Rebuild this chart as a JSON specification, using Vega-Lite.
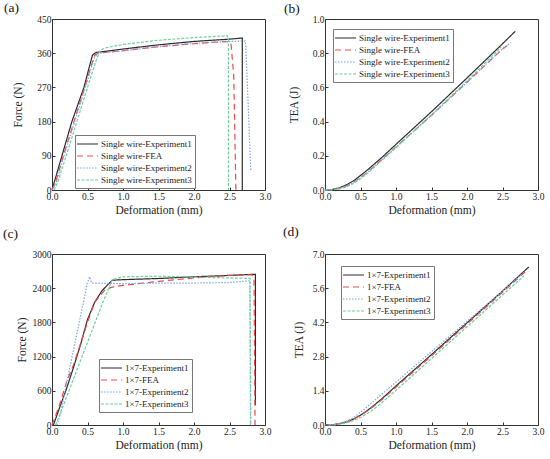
{
  "$schema": "https://vega.github.io/schema/vega-lite/v6.json",
  "description": "Force and TEA versus deformation for single wire and 1x7 strand.",
  "padding": {"left": 2, "top": 0, "right": 0, "bottom": 0},
  "config": {
    "font": "Liberation Serif, Times New Roman, DejaVu Serif, serif",
    "view": {"stroke": "#333", "strokeWidth": 1},
    "axis": {
      "grid": false, "domain": false, "tickSize": -3, "tickColor": "#333",
      "labelFont": "Liberation Serif, Times New Roman, DejaVu Serif, serif", "labelFontSize": 9.5, "labelColor": "#222",
      "titleFont": "Liberation Serif, Times New Roman, DejaVu Serif, serif", "titleFontSize": 11.5, "titleFontWeight": "normal", "titleColor": "#222",
      "labelFlush": false, "labelPadding": 4, "titlePadding": 4
    },
    "title": {"font": "Liberation Serif, Times New Roman, DejaVu Serif, serif", "fontSize": 13.5, "fontWeight": "normal", "anchor": "start", "frame": "group", "color": "#111"},
    "legend": {
      "labelFont": "Liberation Serif, Times New Roman, DejaVu Serif, serif", "labelFontSize": 9, "labelColor": "#222",
      "symbolType": "M-1.4,0H2.8", "symbolSize": 100, "symbolStrokeWidth": 1.5,
      "strokeColor": "#777", "fillColor": "white", "padding": 3, "rowPadding": 1, "labelOffset": 11, "labelLimit": 200
    },
    "line": {"strokeWidth": 1.2}
  },
  "datasets": {
    "a": [
      {"s": "Single wire-Experiment1", "o": 0, "d": 0, "v": 0},
      {"s": "Single wire-Experiment1", "o": 1, "d": 0.14, "v": 90},
      {"s": "Single wire-Experiment1", "o": 2, "d": 0.28, "v": 180},
      {"s": "Single wire-Experiment1", "o": 3, "d": 0.45, "v": 270},
      {"s": "Single wire-Experiment1", "o": 4, "d": 0.52, "v": 320},
      {"s": "Single wire-Experiment1", "o": 5, "d": 0.57, "v": 355},
      {"s": "Single wire-Experiment1", "o": 6, "d": 0.62, "v": 362},
      {"s": "Single wire-Experiment1", "o": 7, "d": 0.8, "v": 366},
      {"s": "Single wire-Experiment1", "o": 8, "d": 1.0, "v": 371},
      {"s": "Single wire-Experiment1", "o": 9, "d": 1.5, "v": 382},
      {"s": "Single wire-Experiment1", "o": 10, "d": 2.0, "v": 391},
      {"s": "Single wire-Experiment1", "o": 11, "d": 2.5, "v": 397},
      {"s": "Single wire-Experiment1", "o": 12, "d": 2.68, "v": 400},
      {"s": "Single wire-Experiment1", "o": 13, "d": 2.68, "v": 0},
      {"s": "Single wire-FEA", "o": 0, "d": 0, "v": 0},
      {"s": "Single wire-FEA", "o": 1, "d": 0.05, "v": 20},
      {"s": "Single wire-FEA", "o": 2, "d": 0.16, "v": 90},
      {"s": "Single wire-FEA", "o": 3, "d": 0.31, "v": 180},
      {"s": "Single wire-FEA", "o": 4, "d": 0.46, "v": 270},
      {"s": "Single wire-FEA", "o": 5, "d": 0.6, "v": 355},
      {"s": "Single wire-FEA", "o": 6, "d": 0.65, "v": 360},
      {"s": "Single wire-FEA", "o": 7, "d": 1.0, "v": 367},
      {"s": "Single wire-FEA", "o": 8, "d": 1.5, "v": 377},
      {"s": "Single wire-FEA", "o": 9, "d": 2.0, "v": 385},
      {"s": "Single wire-FEA", "o": 10, "d": 2.45, "v": 391},
      {"s": "Single wire-FEA", "o": 11, "d": 2.52, "v": 387},
      {"s": "Single wire-FEA", "o": 12, "d": 2.56, "v": 300},
      {"s": "Single wire-FEA", "o": 13, "d": 2.59, "v": 0},
      {"s": "Single wire-Experiment2", "o": 0, "d": 0, "v": 0},
      {"s": "Single wire-Experiment2", "o": 1, "d": 0.06, "v": 20},
      {"s": "Single wire-Experiment2", "o": 2, "d": 0.17, "v": 90},
      {"s": "Single wire-Experiment2", "o": 3, "d": 0.32, "v": 180},
      {"s": "Single wire-Experiment2", "o": 4, "d": 0.47, "v": 270},
      {"s": "Single wire-Experiment2", "o": 5, "d": 0.6, "v": 350},
      {"s": "Single wire-Experiment2", "o": 6, "d": 0.66, "v": 360},
      {"s": "Single wire-Experiment2", "o": 7, "d": 1.0, "v": 366},
      {"s": "Single wire-Experiment2", "o": 8, "d": 1.5, "v": 377},
      {"s": "Single wire-Experiment2", "o": 9, "d": 2.0, "v": 386},
      {"s": "Single wire-Experiment2", "o": 10, "d": 2.5, "v": 391},
      {"s": "Single wire-Experiment2", "o": 11, "d": 2.72, "v": 392},
      {"s": "Single wire-Experiment2", "o": 12, "d": 2.73, "v": 380},
      {"s": "Single wire-Experiment2", "o": 13, "d": 2.8, "v": 50},
      {"s": "Single wire-Experiment3", "o": 0, "d": 0.03, "v": 0},
      {"s": "Single wire-Experiment3", "o": 1, "d": 0.08, "v": 20},
      {"s": "Single wire-Experiment3", "o": 2, "d": 0.2, "v": 90},
      {"s": "Single wire-Experiment3", "o": 3, "d": 0.35, "v": 180},
      {"s": "Single wire-Experiment3", "o": 4, "d": 0.5, "v": 270},
      {"s": "Single wire-Experiment3", "o": 5, "d": 0.62, "v": 340},
      {"s": "Single wire-Experiment3", "o": 6, "d": 0.68, "v": 368},
      {"s": "Single wire-Experiment3", "o": 7, "d": 0.75, "v": 374},
      {"s": "Single wire-Experiment3", "o": 8, "d": 1.0, "v": 383},
      {"s": "Single wire-Experiment3", "o": 9, "d": 1.5, "v": 394},
      {"s": "Single wire-Experiment3", "o": 10, "d": 2.0, "v": 401},
      {"s": "Single wire-Experiment3", "o": 11, "d": 2.47, "v": 406},
      {"s": "Single wire-Experiment3", "o": 12, "d": 2.485, "v": 395},
      {"s": "Single wire-Experiment3", "o": 13, "d": 2.485, "v": 0}
    ],
    "b": [
      {"s": "Single wire-Experiment1", "o": 0, "d": 0, "v": 0},
      {"s": "Single wire-Experiment1", "o": 1, "d": 0.1, "v": 0.003},
      {"s": "Single wire-Experiment1", "o": 2, "d": 0.2, "v": 0.012},
      {"s": "Single wire-Experiment1", "o": 3, "d": 0.3, "v": 0.03},
      {"s": "Single wire-Experiment1", "o": 4, "d": 0.4, "v": 0.053},
      {"s": "Single wire-Experiment1", "o": 5, "d": 0.5, "v": 0.085},
      {"s": "Single wire-Experiment1", "o": 6, "d": 0.6, "v": 0.118},
      {"s": "Single wire-Experiment1", "o": 7, "d": 0.8, "v": 0.19},
      {"s": "Single wire-Experiment1", "o": 8, "d": 1.0, "v": 0.267},
      {"s": "Single wire-Experiment1", "o": 9, "d": 1.5, "v": 0.458},
      {"s": "Single wire-Experiment1", "o": 10, "d": 2.0, "v": 0.655},
      {"s": "Single wire-Experiment1", "o": 11, "d": 2.5, "v": 0.855},
      {"s": "Single wire-Experiment1", "o": 12, "d": 2.68, "v": 0.928},
      {"s": "Single wire-FEA", "o": 0, "d": 0, "v": 0},
      {"s": "Single wire-FEA", "o": 1, "d": 0.1, "v": 0.002},
      {"s": "Single wire-FEA", "o": 2, "d": 0.2, "v": 0.009},
      {"s": "Single wire-FEA", "o": 3, "d": 0.3, "v": 0.024},
      {"s": "Single wire-FEA", "o": 4, "d": 0.4, "v": 0.045},
      {"s": "Single wire-FEA", "o": 5, "d": 0.5, "v": 0.073},
      {"s": "Single wire-FEA", "o": 6, "d": 0.6, "v": 0.105},
      {"s": "Single wire-FEA", "o": 7, "d": 0.8, "v": 0.178},
      {"s": "Single wire-FEA", "o": 8, "d": 1.0, "v": 0.252},
      {"s": "Single wire-FEA", "o": 9, "d": 1.5, "v": 0.437},
      {"s": "Single wire-FEA", "o": 10, "d": 2.0, "v": 0.63},
      {"s": "Single wire-FEA", "o": 11, "d": 2.5, "v": 0.825},
      {"s": "Single wire-FEA", "o": 12, "d": 2.6, "v": 0.855},
      {"s": "Single wire-Experiment2", "o": 0, "d": 0, "v": 0},
      {"s": "Single wire-Experiment2", "o": 1, "d": 0.1, "v": 0.002},
      {"s": "Single wire-Experiment2", "o": 2, "d": 0.2, "v": 0.009},
      {"s": "Single wire-Experiment2", "o": 3, "d": 0.3, "v": 0.023},
      {"s": "Single wire-Experiment2", "o": 4, "d": 0.4, "v": 0.044},
      {"s": "Single wire-Experiment2", "o": 5, "d": 0.5, "v": 0.072},
      {"s": "Single wire-Experiment2", "o": 6, "d": 0.6, "v": 0.104},
      {"s": "Single wire-Experiment2", "o": 7, "d": 0.8, "v": 0.177},
      {"s": "Single wire-Experiment2", "o": 8, "d": 1.0, "v": 0.25},
      {"s": "Single wire-Experiment2", "o": 9, "d": 1.5, "v": 0.436},
      {"s": "Single wire-Experiment2", "o": 10, "d": 2.0, "v": 0.63},
      {"s": "Single wire-Experiment2", "o": 11, "d": 2.5, "v": 0.826},
      {"s": "Single wire-Experiment2", "o": 12, "d": 2.62, "v": 0.862},
      {"s": "Single wire-Experiment3", "o": 0, "d": 0, "v": 0},
      {"s": "Single wire-Experiment3", "o": 1, "d": 0.1, "v": 0.001},
      {"s": "Single wire-Experiment3", "o": 2, "d": 0.2, "v": 0.006},
      {"s": "Single wire-Experiment3", "o": 3, "d": 0.3, "v": 0.018},
      {"s": "Single wire-Experiment3", "o": 4, "d": 0.4, "v": 0.038},
      {"s": "Single wire-Experiment3", "o": 5, "d": 0.5, "v": 0.065},
      {"s": "Single wire-Experiment3", "o": 6, "d": 0.6, "v": 0.098},
      {"s": "Single wire-Experiment3", "o": 7, "d": 0.8, "v": 0.172},
      {"s": "Single wire-Experiment3", "o": 8, "d": 1.0, "v": 0.248},
      {"s": "Single wire-Experiment3", "o": 9, "d": 1.5, "v": 0.44},
      {"s": "Single wire-Experiment3", "o": 10, "d": 2.0, "v": 0.638},
      {"s": "Single wire-Experiment3", "o": 11, "d": 2.48, "v": 0.835}
    ],
    "c": [
      {"s": "1×7-Experiment1", "o": 0, "d": 0.02, "v": 0},
      {"s": "1×7-Experiment1", "o": 1, "d": 0.1, "v": 280},
      {"s": "1×7-Experiment1", "o": 2, "d": 0.2, "v": 620},
      {"s": "1×7-Experiment1", "o": 3, "d": 0.3, "v": 1000},
      {"s": "1×7-Experiment1", "o": 4, "d": 0.4, "v": 1400},
      {"s": "1×7-Experiment1", "o": 5, "d": 0.5, "v": 1850},
      {"s": "1×7-Experiment1", "o": 6, "d": 0.6, "v": 2150},
      {"s": "1×7-Experiment1", "o": 7, "d": 0.7, "v": 2350},
      {"s": "1×7-Experiment1", "o": 8, "d": 0.8, "v": 2480},
      {"s": "1×7-Experiment1", "o": 9, "d": 0.85, "v": 2540},
      {"s": "1×7-Experiment1", "o": 10, "d": 1.0, "v": 2550},
      {"s": "1×7-Experiment1", "o": 11, "d": 1.5, "v": 2570},
      {"s": "1×7-Experiment1", "o": 12, "d": 2.0, "v": 2600},
      {"s": "1×7-Experiment1", "o": 13, "d": 2.5, "v": 2625},
      {"s": "1×7-Experiment1", "o": 14, "d": 2.865, "v": 2645},
      {"s": "1×7-Experiment1", "o": 15, "d": 2.865, "v": 350},
      {"s": "1×7-FEA", "o": 0, "d": 0, "v": 0},
      {"s": "1×7-FEA", "o": 1, "d": 0.1, "v": 330},
      {"s": "1×7-FEA", "o": 2, "d": 0.21, "v": 770},
      {"s": "1×7-FEA", "o": 3, "d": 0.3, "v": 1050},
      {"s": "1×7-FEA", "o": 4, "d": 0.4, "v": 1420},
      {"s": "1×7-FEA", "o": 5, "d": 0.5, "v": 1800},
      {"s": "1×7-FEA", "o": 6, "d": 0.6, "v": 2150},
      {"s": "1×7-FEA", "o": 7, "d": 0.75, "v": 2380},
      {"s": "1×7-FEA", "o": 8, "d": 0.85, "v": 2420},
      {"s": "1×7-FEA", "o": 9, "d": 1.0, "v": 2450},
      {"s": "1×7-FEA", "o": 10, "d": 1.5, "v": 2520},
      {"s": "1×7-FEA", "o": 11, "d": 2.0, "v": 2580},
      {"s": "1×7-FEA", "o": 12, "d": 2.5, "v": 2625},
      {"s": "1×7-FEA", "o": 13, "d": 2.82, "v": 2635},
      {"s": "1×7-FEA", "o": 14, "d": 2.845, "v": 2580},
      {"s": "1×7-FEA", "o": 15, "d": 2.86, "v": 0},
      {"s": "1×7-Experiment2", "o": 0, "d": 0.07, "v": 0},
      {"s": "1×7-Experiment2", "o": 1, "d": 0.12, "v": 200},
      {"s": "1×7-Experiment2", "o": 2, "d": 0.2, "v": 700},
      {"s": "1×7-Experiment2", "o": 3, "d": 0.3, "v": 1300},
      {"s": "1×7-Experiment2", "o": 4, "d": 0.4, "v": 1900},
      {"s": "1×7-Experiment2", "o": 5, "d": 0.5, "v": 2500},
      {"s": "1×7-Experiment2", "o": 6, "d": 0.53, "v": 2600},
      {"s": "1×7-Experiment2", "o": 7, "d": 0.56, "v": 2490},
      {"s": "1×7-Experiment2", "o": 8, "d": 1.0, "v": 2480},
      {"s": "1×7-Experiment2", "o": 9, "d": 1.5, "v": 2490},
      {"s": "1×7-Experiment2", "o": 10, "d": 2.0, "v": 2490},
      {"s": "1×7-Experiment2", "o": 11, "d": 2.5, "v": 2500},
      {"s": "1×7-Experiment2", "o": 12, "d": 2.785, "v": 2530},
      {"s": "1×7-Experiment2", "o": 13, "d": 2.795, "v": 0},
      {"s": "1×7-Experiment3", "o": 0, "d": 0.05, "v": 0},
      {"s": "1×7-Experiment3", "o": 1, "d": 0.1, "v": 150},
      {"s": "1×7-Experiment3", "o": 2, "d": 0.3, "v": 800},
      {"s": "1×7-Experiment3", "o": 3, "d": 0.5, "v": 1450},
      {"s": "1×7-Experiment3", "o": 4, "d": 0.7, "v": 2100},
      {"s": "1×7-Experiment3", "o": 5, "d": 0.85, "v": 2550},
      {"s": "1×7-Experiment3", "o": 6, "d": 1.0, "v": 2600},
      {"s": "1×7-Experiment3", "o": 7, "d": 1.5, "v": 2610},
      {"s": "1×7-Experiment3", "o": 8, "d": 2.0, "v": 2595},
      {"s": "1×7-Experiment3", "o": 9, "d": 2.5, "v": 2580},
      {"s": "1×7-Experiment3", "o": 10, "d": 2.79, "v": 2572},
      {"s": "1×7-Experiment3", "o": 11, "d": 2.8, "v": 0}
    ],
    "d": [
      {"s": "1×7-Experiment1", "o": 0, "d": 0, "v": 0},
      {"s": "1×7-Experiment1", "o": 1, "d": 0.1, "v": 0.01},
      {"s": "1×7-Experiment1", "o": 2, "d": 0.2, "v": 0.05},
      {"s": "1×7-Experiment1", "o": 3, "d": 0.3, "v": 0.12},
      {"s": "1×7-Experiment1", "o": 4, "d": 0.4, "v": 0.24},
      {"s": "1×7-Experiment1", "o": 5, "d": 0.5, "v": 0.4},
      {"s": "1×7-Experiment1", "o": 6, "d": 0.6, "v": 0.6},
      {"s": "1×7-Experiment1", "o": 7, "d": 0.7, "v": 0.83},
      {"s": "1×7-Experiment1", "o": 8, "d": 0.8, "v": 1.07},
      {"s": "1×7-Experiment1", "o": 9, "d": 1.0, "v": 1.6},
      {"s": "1×7-Experiment1", "o": 10, "d": 1.5, "v": 2.88},
      {"s": "1×7-Experiment1", "o": 11, "d": 2.0, "v": 4.18},
      {"s": "1×7-Experiment1", "o": 12, "d": 2.5, "v": 5.48},
      {"s": "1×7-Experiment1", "o": 13, "d": 2.87, "v": 6.47},
      {"s": "1×7-FEA", "o": 0, "d": 0, "v": 0},
      {"s": "1×7-FEA", "o": 1, "d": 0.1, "v": 0.01},
      {"s": "1×7-FEA", "o": 2, "d": 0.2, "v": 0.05},
      {"s": "1×7-FEA", "o": 3, "d": 0.3, "v": 0.12},
      {"s": "1×7-FEA", "o": 4, "d": 0.4, "v": 0.23},
      {"s": "1×7-FEA", "o": 5, "d": 0.5, "v": 0.39},
      {"s": "1×7-FEA", "o": 6, "d": 0.6, "v": 0.58},
      {"s": "1×7-FEA", "o": 7, "d": 0.7, "v": 0.8},
      {"s": "1×7-FEA", "o": 8, "d": 0.8, "v": 1.03},
      {"s": "1×7-FEA", "o": 9, "d": 1.0, "v": 1.55},
      {"s": "1×7-FEA", "o": 10, "d": 1.5, "v": 2.83},
      {"s": "1×7-FEA", "o": 11, "d": 2.0, "v": 4.13},
      {"s": "1×7-FEA", "o": 12, "d": 2.5, "v": 5.43},
      {"s": "1×7-FEA", "o": 13, "d": 2.86, "v": 6.38},
      {"s": "1×7-Experiment2", "o": 0, "d": 0.05, "v": 0},
      {"s": "1×7-Experiment2", "o": 1, "d": 0.1, "v": 0.005},
      {"s": "1×7-Experiment2", "o": 2, "d": 0.2, "v": 0.05},
      {"s": "1×7-Experiment2", "o": 3, "d": 0.3, "v": 0.15},
      {"s": "1×7-Experiment2", "o": 4, "d": 0.4, "v": 0.3},
      {"s": "1×7-Experiment2", "o": 5, "d": 0.5, "v": 0.52},
      {"s": "1×7-Experiment2", "o": 6, "d": 0.6, "v": 0.76},
      {"s": "1×7-Experiment2", "o": 7, "d": 0.7, "v": 1.01},
      {"s": "1×7-Experiment2", "o": 8, "d": 0.8, "v": 1.26},
      {"s": "1×7-Experiment2", "o": 9, "d": 1.0, "v": 1.76},
      {"s": "1×7-Experiment2", "o": 10, "d": 1.5, "v": 3.0},
      {"s": "1×7-Experiment2", "o": 11, "d": 2.0, "v": 4.24},
      {"s": "1×7-Experiment2", "o": 12, "d": 2.5, "v": 5.48},
      {"s": "1×7-Experiment2", "o": 13, "d": 2.8, "v": 6.24},
      {"s": "1×7-Experiment3", "o": 0, "d": 0.05, "v": 0},
      {"s": "1×7-Experiment3", "o": 1, "d": 0.1, "v": 0.005},
      {"s": "1×7-Experiment3", "o": 2, "d": 0.2, "v": 0.03},
      {"s": "1×7-Experiment3", "o": 3, "d": 0.3, "v": 0.09},
      {"s": "1×7-Experiment3", "o": 4, "d": 0.4, "v": 0.18},
      {"s": "1×7-Experiment3", "o": 5, "d": 0.5, "v": 0.31},
      {"s": "1×7-Experiment3", "o": 6, "d": 0.6, "v": 0.48},
      {"s": "1×7-Experiment3", "o": 7, "d": 0.7, "v": 0.68},
      {"s": "1×7-Experiment3", "o": 8, "d": 0.8, "v": 0.91},
      {"s": "1×7-Experiment3", "o": 9, "d": 1.0, "v": 1.42},
      {"s": "1×7-Experiment3", "o": 10, "d": 1.5, "v": 2.72},
      {"s": "1×7-Experiment3", "o": 11, "d": 2.0, "v": 4.02},
      {"s": "1×7-Experiment3", "o": 12, "d": 2.5, "v": 5.32},
      {"s": "1×7-Experiment3", "o": 13, "d": 2.8, "v": 6.1}
    ]
  },
  "columns": 2,
  "bounds": "flush",
  "spacing": {"row": 64, "column": 60},
  "resolve": {"scale": {"color": "independent", "strokeDash": "independent"}},
  "concat": [
    {
      "title": {"text": "(a)", "dx": -48, "offset": 0},
      "width": 213, "height": 171,
      "data": {"name": "a"},
      "mark": "line",
      "encoding": {
        "x": {"field": "d", "type": "quantitative", "title": "Deformation (mm)", "scale": {"domain": [0, 3], "nice": false}, "axis": {"values": [0, 0.5, 1, 1.5, 2, 2.5, 3], "format": ".1f"}},
        "y": {"field": "v", "type": "quantitative", "title": "Force (N)", "scale": {"domain": [0, 450], "nice": false}, "axis": {"values": [0, 90, 180, 270, 360, 450], "format": "d", "titlePadding": 13}},
        "order": {"field": "o", "type": "quantitative"},
        "color": {"field": "s", "type": "nominal", "title": null,
          "scale": {"domain": ["Single wire-Experiment1", "Single wire-FEA", "Single wire-Experiment2", "Single wire-Experiment3"], "range": ["#2b2b2b", "#f04848", "#7aa6e8", "#6fd09c"]},
          "legend": {"orient": "none", "legendX": 23, "legendY": 116}},
        "strokeDash": {"field": "s", "type": "nominal", "title": null,
          "scale": {"domain": ["Single wire-Experiment1", "Single wire-FEA", "Single wire-Experiment2", "Single wire-Experiment3"], "range": [[1, 0], [6, 4], [1.5, 1.5], [3, 1.5]]},
          "legend": {"orient": "none", "legendX": 23, "legendY": 116}}
      }
    },
    {
      "title": {"text": "(b)", "dx": -41, "offset": -1},
      "width": 213, "height": 171,
      "data": {"name": "b"},
      "mark": "line",
      "encoding": {
        "x": {"field": "d", "type": "quantitative", "title": "Deformation (mm)", "scale": {"domain": [0, 3], "nice": false}, "axis": {"values": [0, 0.5, 1, 1.5, 2, 2.5, 3], "format": ".1f"}},
        "y": {"field": "v", "type": "quantitative", "title": "TEA (J)", "scale": {"domain": [0, 1], "nice": false}, "axis": {"values": [0, 0.2, 0.4, 0.6, 0.8, 1.0], "format": ".1f", "titlePadding": 13}},
        "order": {"field": "o", "type": "quantitative"},
        "color": {"field": "s", "type": "nominal", "title": null,
          "scale": {"domain": ["Single wire-Experiment1", "Single wire-FEA", "Single wire-Experiment2", "Single wire-Experiment3"], "range": ["#2b2b2b", "#f04848", "#7aa6e8", "#6fd09c"]},
          "legend": {"orient": "none", "legendX": 8, "legendY": 10}},
        "strokeDash": {"field": "s", "type": "nominal", "title": null,
          "scale": {"domain": ["Single wire-Experiment1", "Single wire-FEA", "Single wire-Experiment2", "Single wire-Experiment3"], "range": [[1, 0], [6, 4], [1.5, 1.5], [3, 1.5]]},
          "legend": {"orient": "none", "legendX": 8, "legendY": 10}}
      }
    },
    {
      "title": {"text": "(c)", "dx": -49, "offset": 9},
      "width": 213, "height": 171,
      "data": {"name": "c"},
      "mark": "line",
      "encoding": {
        "x": {"field": "d", "type": "quantitative", "title": "Deformation (mm)", "scale": {"domain": [0, 3], "nice": false}, "axis": {"values": [0, 0.5, 1, 1.5, 2, 2.5, 3], "format": ".1f"}},
        "y": {"field": "v", "type": "quantitative", "title": "Force (N)", "scale": {"domain": [0, 3000], "nice": false}, "axis": {"values": [0, 600, 1200, 1800, 2400, 3000], "format": "d", "titlePadding": 5}},
        "order": {"field": "o", "type": "quantitative"},
        "color": {"field": "s", "type": "nominal", "title": null,
          "scale": {"domain": ["1×7-Experiment1", "1×7-FEA", "1×7-Experiment2", "1×7-Experiment3"], "range": ["#2b2b2b", "#f04848", "#7aa6e8", "#6fd09c"]},
          "legend": {"orient": "none", "legendX": 47, "legendY": 105}},
        "strokeDash": {"field": "s", "type": "nominal", "title": null,
          "scale": {"domain": ["1×7-Experiment1", "1×7-FEA", "1×7-Experiment2", "1×7-Experiment3"], "range": [[1, 0], [6, 4], [1.5, 1.5], [3, 1.5]]},
          "legend": {"orient": "none", "legendX": 47, "legendY": 105}}
      }
    },
    {
      "title": {"text": "(d)", "dx": -42, "offset": 11},
      "width": 213, "height": 171,
      "data": {"name": "d"},
      "mark": "line",
      "encoding": {
        "x": {"field": "d", "type": "quantitative", "title": "Deformation (mm)", "scale": {"domain": [0, 3], "nice": false}, "axis": {"values": [0, 0.5, 1, 1.5, 2, 2.5, 3], "format": ".1f"}},
        "y": {"field": "v", "type": "quantitative", "title": "TEA (J)", "scale": {"domain": [0, 7], "nice": false}, "axis": {"values": [0, 1.4, 2.8, 4.2, 5.6, 7.0], "format": ".1f", "titlePadding": 8}},
        "order": {"field": "o", "type": "quantitative"},
        "color": {"field": "s", "type": "nominal", "title": null,
          "scale": {"domain": ["1×7-Experiment1", "1×7-FEA", "1×7-Experiment2", "1×7-Experiment3"], "range": ["#2b2b2b", "#f04848", "#7aa6e8", "#6fd09c"]},
          "legend": {"orient": "none", "legendX": 16, "legendY": 12}},
        "strokeDash": {"field": "s", "type": "nominal", "title": null,
          "scale": {"domain": ["1×7-Experiment1", "1×7-FEA", "1×7-Experiment2", "1×7-Experiment3"], "range": [[1, 0], [6, 4], [1.5, 1.5], [3, 1.5]]},
          "legend": {"orient": "none", "legendX": 16, "legendY": 12}}
      }
    }
  ]
}
